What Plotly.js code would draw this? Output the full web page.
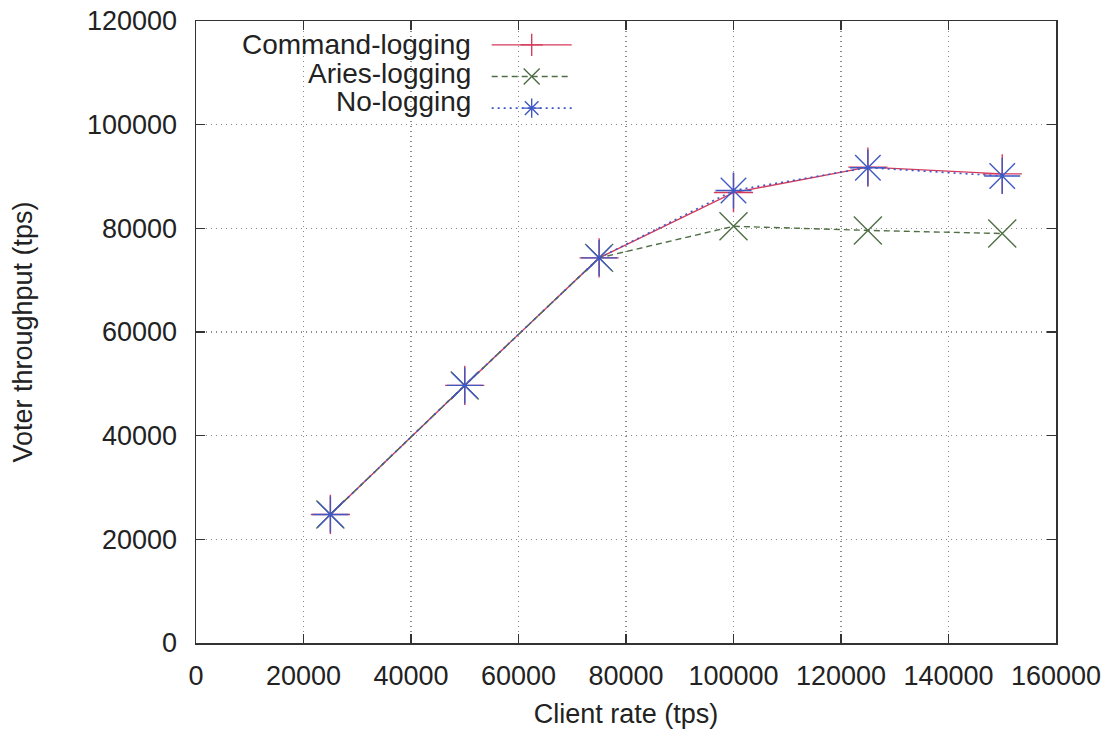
<!DOCTYPE html>
<html>
<head>
<meta charset="utf-8">
<script src="https://cdn.plot.ly/plotly-3.0.1.min.js"></script>
<style>html,body{margin:0;padding:0;background:#fff;}#chart{width:1117px;height:736px;}</style>
</head>
<body>
<div id="chart"></div>
<script>
var clientRate = [25000, 50000, 75000, 100000, 125000, 150000];
var commandLogging = [24800, 49700, 74300, 86900, 91800, 90500];
var ariesLogging = [24800, 49700, 74300, 80400, 79600, 79000];
var noLogging = [24800, 49700, 74300, 87300, 91700, 90100];
var seriesNames = ['Command-logging', 'Aries-logging', 'No-logging'];
var xTicks = [0, 20000, 40000, 60000, 80000, 100000, 120000, 140000, 160000];
var yTicks = [0, 20000, 40000, 60000, 80000, 100000, 120000];

var FONT = 'Liberation Sans, Arial, Helvetica, sans-serif';

var traces = [
  {x: clientRate, y: commandLogging, name: ' ', mode: 'lines+markers',
   line: {color: '#d43a5c', width: 1.4},
   marker: {symbol: 'cross-thin-open', size: 28, line: {color: '#d43a5c', width: 1.4}}},
  {x: clientRate, y: ariesLogging, name: ' ', mode: 'lines+markers',
   line: {color: '#4f6e45', width: 1.4, dash: '6px,4px'},
   marker: {symbol: 'x-thin-open', size: 28, line: {color: '#5d7656', width: 1.4}}},
  {x: clientRate, y: noLogging, name: ' ', mode: 'lines+markers',
   line: {color: '#3e58c4', width: 1.6, dash: '2px,4px'},
   marker: {symbol: 'asterisk-open', size: 30, line: {color: '#3e58c4', width: 1.4}}}
];

var legendY = [0.963, 0.916, 0.870];
var annotations = seriesNames.map(function (n, i) {
  return {text: n, xref: 'paper', yref: 'paper', x: 0.322, y: legendY[i],
          xanchor: 'right', yanchor: 'middle', showarrow: false,
          font: {family: FONT, size: 28, color: '#222'}};
});

var axisCommon = {
  showline: true, linecolor: '#333', linewidth: 1.5, mirror: 'ticks',
  ticks: 'inside', ticklen: 9, tickcolor: '#333', tickwidth: 1.5,
  showgrid: true, gridcolor: '#8a8a8a', griddash: '1px,4px', gridwidth: 1.2,
  zeroline: false, tickfont: {family: FONT, size: 27, color: '#222'}
};

var layout = {
  width: 1117, height: 736,
  margin: {l: 196, r: 61, t: 21, b: 93},
  paper_bgcolor: '#fff', plot_bgcolor: '#fff',
  showlegend: true,
  legend: {x: 0.338, y: 0.995, xanchor: 'left', yanchor: 'top', bgcolor: 'rgba(0,0,0,0)',
           itemwidth: 80, font: {family: FONT, size: 22}, tracegroupgap: 0, itemsizing: 'trace'},
  xaxis: Object.assign({}, axisCommon, {
    range: [0, 160000], tickvals: xTicks, ticktext: xTicks.map(String),
    ticklabelstandoff: 8,
    title: {text: 'Client rate (tps)', font: {family: FONT, size: 27, color: '#222'}, standoff: 14}
  }),
  yaxis: Object.assign({}, axisCommon, {
    range: [0, 120000], tickvals: yTicks, ticktext: yTicks.map(String),
    ticklabelstandoff: 12,
    title: {text: 'Voter throughput (tps)', font: {family: FONT, size: 27, color: '#222'}, standoff: 46}
  }),
  annotations: annotations
};

Plotly.newPlot('chart', traces, layout, {displayModeBar: false, staticPlot: true});
</script>
</body>
</html>
